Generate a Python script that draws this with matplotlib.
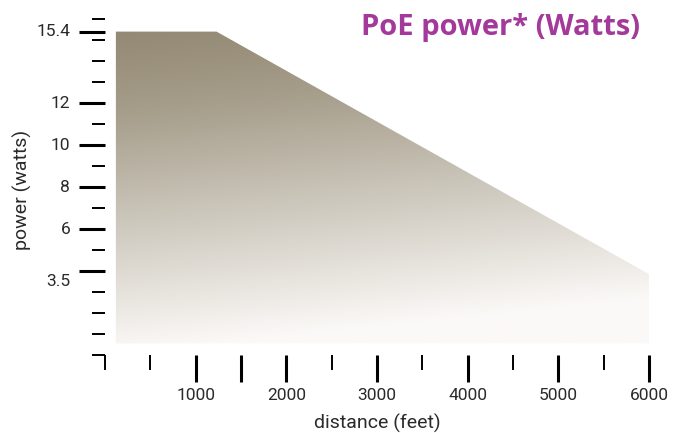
import numpy as np
import matplotlib
matplotlib.use('Agg')
import matplotlib.pyplot as plt
from matplotlib.patches import Polygon
from matplotlib.colors import LinearSegmentedColormap

# power curve (feet, watts)
dist = [120, 1230, 6000, 6000, 120]
power = [15.4, 15.4, 3.85, 0.55, 0.55]

ytick_major = [4, 6, 8, 10, 12, 15.4]
ytick_minor = [0, 1, 2, 3, 5, 7, 9, 11, 13, 14, 15, 16]
ylabel_pos = [3.5, 6, 8, 10, 12, 15.4]
ylabel_txt = ['3.5', '6', '8', '10', '12', '15.4']

xtick_major = [1000, 1500, 2000, 3000, 4000, 5000, 6000]
xtick_major_lbl = ['1000', '', '2000', '3000', '4000', '5000', '6000']
xtick_minor = [0, 500, 2500, 3500, 4500, 5500]

narrow = ['Roboto', 'DejaVu Sans']

fig = plt.figure(figsize=(6.74, 4.33), dpi=100)
ax = fig.add_axes([105/674, 78/433, 544/674, 336/433])
ax.set_xlim(0, 6000)
ax.set_ylim(0, 16)
for s in ax.spines.values():
    s.set_visible(False)

# gradient fill
cmap = LinearSegmentedColormap.from_list('g', [
    (0.0, '#fbf9f7'), (0.25, '#dedad2'), (0.5, '#c1bbae'),
    (0.75, '#a59c89'), (1.0, '#928873')])
yy = np.linspace(0, 16, 200)[:, None]
xx = np.linspace(0, 6000, 200)[None, :]
grad = np.clip(yy / 15.6 - 0.17 * xx / 6000, 0, 1)
im = ax.imshow(grad, extent=[0, 6000, 0, 16], origin='lower', aspect='auto',
               cmap=cmap, vmin=0, vmax=1, interpolation='bilinear')
poly = Polygon(np.column_stack([dist, power]), closed=True,
               facecolor='none', edgecolor='none')
ax.add_patch(poly)
im.set_clip_path(poly)

ax.set_yticks(ytick_major)
ax.set_yticks(ytick_minor, minor=True)
ax.set_yticklabels([])
ax.tick_params(axis='y', which='major', length=19, width=2.2, direction='out')
ax.tick_params(axis='y', which='minor', length=9.5, width=1.4, direction='out')
for v, t in zip(ylabel_pos, ylabel_txt):
    ax.annotate(t, xy=(0, v), xycoords=('axes fraction', 'data'),
                xytext=(-25, 0), textcoords='offset points',
                ha='right', va='center', fontsize=12.5, family=narrow, color='#2a2a2a')

ax.set_xticks(xtick_major)
ax.set_xticklabels(xtick_major_lbl, fontsize=12.5, family=narrow, color='#2a2a2a')
ax.set_xticks(xtick_minor, minor=True)
ax.tick_params(axis='x', which='major', length=19.5, width=2.2, pad=4, direction='out')
ax.tick_params(axis='x', which='minor', length=11, width=1.4, direction='out')

ax.set_xlabel('distance (feet)', fontsize=14, family='Roboto', color='#2a2a2a', labelpad=8)
fig.text(22/674, 1 - 190/433, 'power (watts)', rotation=90, ha='center', va='center',
         fontsize=14, family='Roboto', color='#2a2a2a')

fig.text(640/674, 1 - 27/433, 'PoE power* (Watts)', ha='right', va='center',
         fontsize=21, fontweight='bold', family='Open Sans', color='#a3399a')

fig.savefig('out.png', dpi=100)
